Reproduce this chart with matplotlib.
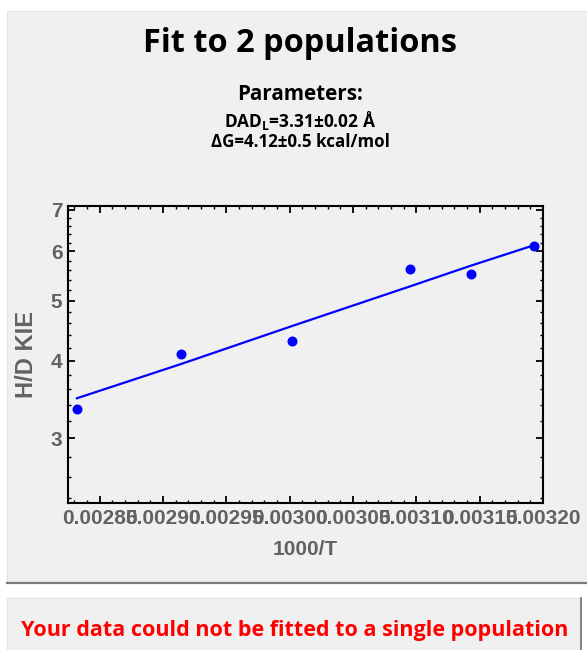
import matplotlib.pyplot as plt
from matplotlib.patches import Rectangle
from matplotlib.lines import Line2D
from matplotlib.ticker import FixedLocator, FixedFormatter, NullFormatter

# measured points: 1/T (K^-1) and H/D KIE
inv_T = [0.002832, 0.002914, 0.003002, 0.003095, 0.003143, 0.003193]
kie = [3.34, 4.10, 4.30, 5.63, 5.52, 6.13]
# 2-population fit evaluated at the same temperatures
kie_fit = [3.48, 3.95, 4.55, 5.27, 5.69, 6.14]

x_ticks = [0.00285, 0.00290, 0.00295, 0.00300, 0.00305, 0.00310, 0.00315, 0.00320]
x_tick_labels = ['0.00285', '0.00290', '0.00295', '0.00300',
                 '0.00305', '0.00310', '0.00315', '0.00320']
x_minor = [0.00283, 0.00284, 0.00286, 0.00287, 0.00288, 0.00289,
           0.00291, 0.00292, 0.00293, 0.00294, 0.00296, 0.00297, 0.00298, 0.00299,
           0.00301, 0.00302, 0.00303, 0.00304, 0.00306, 0.00307, 0.00308, 0.00309,
           0.00311, 0.00312, 0.00313, 0.00314, 0.00316, 0.00317, 0.00318, 0.00319]
y_ticks = [3, 4, 5, 6, 7]
y_minor = [2.4, 2.6, 2.8, 3.2, 3.4, 3.6, 3.8, 4.2, 4.4, 4.6, 4.8,
           5.2, 5.4, 5.6, 5.8, 6.2, 6.4, 6.6, 6.8, 7.0]

W, H = 587, 650
GRAY_BG = '#f0f0f0'
LABEL_GRAY = '#626262'
TXT_FONT = ['Open Sans', 'DejaVu Sans']
AX_FONT = ['Liberation Sans', 'DejaVu Sans']

plt.rcParams['mathtext.fontset'] = 'custom'
plt.rcParams['mathtext.rm'] = 'Open Sans:bold'


def px(x, y):
    return x / W, 1 - y / H


fig = plt.figure(figsize=(W / 100, H / 100), dpi=100, facecolor='white')

# upper panel
fig.add_artist(Rectangle(px(7, 582), (W - 7) / W, 571 / H, transform=fig.transFigure,
                         facecolor=GRAY_BG, edgecolor='#e2e2e2', lw=0.8, zorder=-10))
fig.add_artist(Line2D([7 / W, 1], [1 - 582.5 / H] * 2, transform=fig.transFigure,
                      color='#7a7a7a', lw=1.6, zorder=-9))
# lower message panel
fig.add_artist(Rectangle(px(7, 652), 574 / W, 54 / H, transform=fig.transFigure,
                         facecolor=GRAY_BG, edgecolor='#e2e2e2', lw=0.8, zorder=-10))
fig.add_artist(Line2D([581 / W] * 2, [0, 1 - 598 / H], transform=fig.transFigure,
                      color='#7a7a7a', lw=1.3, zorder=-9))

fig.text(*px(300, 52), 'Fit to 2 populations', ha='center', va='baseline',
         fontsize=23.4, fontweight='bold', family=TXT_FONT)
fig.text(*px(300, 100), 'Parameters:', ha='center', va='baseline',
         fontsize=14.9, fontweight='bold', family=TXT_FONT)
fig.text(*px(300, 127), 'DAD$_\\mathrm{L}$=3.31±0.02 Å', ha='center', va='baseline',
         fontsize=12.4, fontweight='bold', family=TXT_FONT)
fig.text(*px(300, 147), 'ΔG=4.12±0.5 kcal/mol', ha='center', va='baseline',
         fontsize=12.2, fontweight='bold', family=TXT_FONT)
fig.text(*px(295, 636), 'Your data could not be fitted to a single population',
         ha='center', va='baseline', fontsize=15.5, fontweight='bold',
         color='#ff0000', family=TXT_FONT)

ax = fig.add_axes([68 / W, 1 - 503 / H, 475 / W, 297 / H])
ax.set_facecolor(GRAY_BG)
ax.set_yscale('log')
ax.plot(inv_T, kie_fit, color='#0000ff', lw=1.6, zorder=2)
ax.plot(inv_T, kie, 'o', color='#0000ff', ms=6.2, zorder=3, clip_on=False)

ax.set_xlim(0.002825, 0.00320)
ax.set_ylim(2.36, 7.1)
ax.xaxis.set_major_locator(FixedLocator(x_ticks))
ax.xaxis.set_major_formatter(FixedFormatter(x_tick_labels))
ax.xaxis.set_minor_locator(FixedLocator(x_minor))
ax.yaxis.set_major_locator(FixedLocator(y_ticks))
ax.yaxis.set_major_formatter(FixedFormatter([str(v) for v in y_ticks]))
ax.yaxis.set_minor_locator(FixedLocator(y_minor))
ax.yaxis.set_minor_formatter(NullFormatter())

ax.tick_params(which='both', direction='in', top=True, right=True, color='black')
ax.tick_params(which='major', length=5, width=1.3, pad=4)
ax.tick_params(which='minor', length=2.5, width=1.0)
for spine in ax.spines.values():
    spine.set_linewidth(1.5)
for lab in ax.get_xticklabels() + ax.get_yticklabels():
    lab.set_fontfamily(AX_FONT)
    lab.set_fontweight('bold')
    lab.set_fontsize(15)
    lab.set_color(LABEL_GRAY)

ax.set_xlabel('1000/T', fontsize=15, fontweight='bold', color=LABEL_GRAY,
              family=AX_FONT, labelpad=9)
ax.set_ylabel('H/D KIE', fontsize=17, fontweight='bold', color=LABEL_GRAY,
              family=AX_FONT, labelpad=9)

fig.savefig('out.png', dpi=100, facecolor='white')
